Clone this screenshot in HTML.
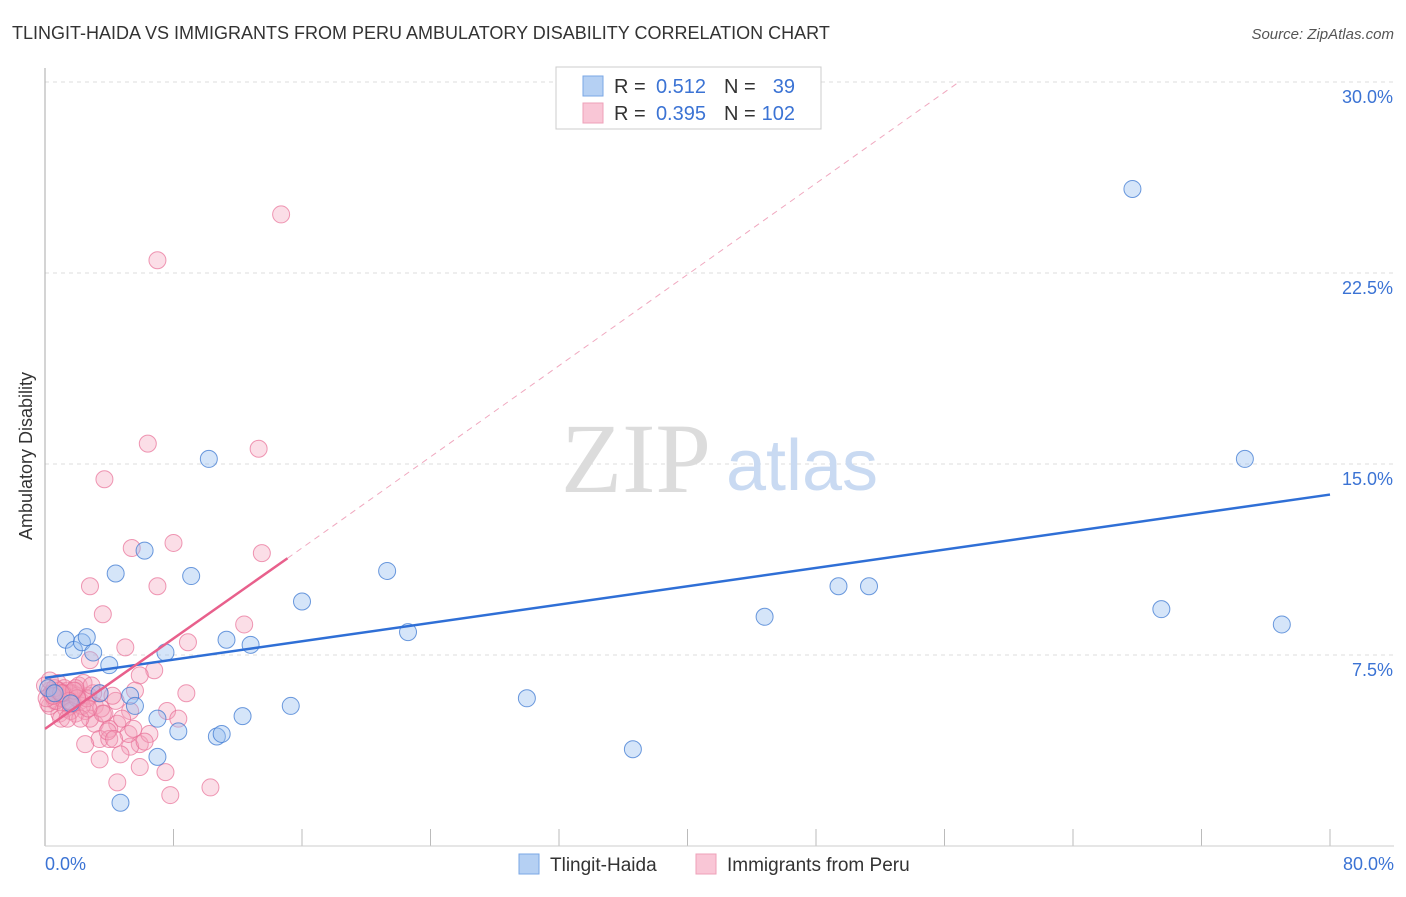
<!DOCTYPE html>
<html><head><meta charset="utf-8"><style>
body{margin:0;background:#fff;font-family:"Liberation Sans",sans-serif}
</style></head><body>
<svg width="1406" height="892" font-family="Liberation Sans, sans-serif">
<text x="12" y="39" font-size="18" fill="#333">TLINGIT-HAIDA VS IMMIGRANTS FROM PERU AMBULATORY DISABILITY CORRELATION CHART</text>
<text x="1394" y="39" font-size="15" fill="#555" font-style="italic" text-anchor="end">Source: ZipAtlas.com</text>
<g id="grid"></g>
<line x1="45" y1="68" x2="45" y2="846" stroke="#aaa"/>
<line x1="45" y1="846" x2="1394" y2="846" stroke="#ccc"/>
<text x="32" y="456" font-size="18" fill="#333" transform="rotate(-90 32 456)" text-anchor="middle">Ambulatory Disability</text>
<text x="636" y="492" font-size="100" fill="#dcdcdc" style="font-family:'Liberation Serif',serif" text-anchor="middle">ZIP</text>
<text x="802" y="490" font-size="72" fill="#c9daf2" text-anchor="middle">atlas</text>
<g id="pts"></g>
<g id="lines"></g>
<text x="45" y="870" font-size="18" fill="#3b73d4">0.0%</text>
<text x="1394" y="870" font-size="18" fill="#3b73d4" text-anchor="end">80.0%</text>
<rect x="556" y="67" width="265" height="62" fill="#fff" stroke="#ccc"/>
<rect x="583" y="76" width="20" height="20" fill="#b5d0f3" stroke="#7aa7e6"/>
<rect x="583" y="103" width="20" height="20" fill="#f9c6d6" stroke="#eea0b8"/>
<g font-size="20" fill="#333">
<text x="614" y="93">R =</text>
<text x="706" y="93" fill="#3b73d4" text-anchor="end">0.512</text>
<text x="724" y="93">N =</text>
<text x="795" y="93" fill="#3b73d4" text-anchor="end">39</text>
<text x="614" y="120">R =</text>
<text x="706" y="120" fill="#3b73d4" text-anchor="end">0.395</text>
<text x="724" y="120">N =</text>
<text x="795" y="120" fill="#3b73d4" text-anchor="end">102</text>
</g>
<rect x="519" y="854" width="20" height="20" fill="#b5d0f3" stroke="#7aa7e6"/>
<text x="550" y="871" font-size="19" fill="#333">Tlingit-Haida</text>
<rect x="696" y="854" width="20" height="20" fill="#f9c6d6" stroke="#eea0b8"/>
<text x="727" y="871" font-size="19" fill="#333">Immigrants from Peru</text>
</svg>
<script>
const yTicks=[7.5,15,22.5,30];
const xTickVals=[0,8,16,24,32,40,48,56,64,72,80];
const blueX=[1.3,1.8,2.3,2.6,3.0,4.0,4.4,6.2,5.3,5.6,7.0,7.0,7.5,8.3,9.1,10.2,10.7,11.0,11.3,12.3,12.8,15.3,16.0,21.3,22.6,30.0,36.6,44.8,49.4,51.3,67.7,69.5,74.7,77.0,4.7,3.4,0.2,0.6,1.6];
const blueY=[8.1,7.7,8.0,8.2,7.6,7.1,10.7,11.6,5.9,5.5,5.0,3.5,7.6,4.5,10.6,15.2,4.3,4.4,8.1,5.1,7.9,5.5,9.6,10.8,8.4,5.8,3.8,9.0,10.2,10.2,25.8,9.3,15.2,8.7,1.7,6.0,6.2,6.0,5.6];
const pinkX=[14.7,7.0,6.4,13.3,3.7,8.0,5.4,13.5,2.8,7.0,3.6,12.4,5.0,8.9,6.8,5.9,2.8,5.6,8.8,3.4,4.4,5.3,7.6,8.3,4.5,3.1,4.0,3.4,5.9,5.3,2.5,4.7,5.9,7.5,4.5,10.3,7.8,0.9,0.6,1.2,1.6,1.9,2.2,2.5,0.9,0.3,0.8,1.4,2.1,2.7,3.1,3.7,1.9,2.8,4.0,6.5,5.2,3.4,2.3,1.1,1.7,0.3,0.5,0.0,0.5,1.0,1.5,2.0,0.2,0.7,1.2,1.7,2.4,3.0,3.5,4.2,4.8,5.5,6.2,0.4,1.3,2.6,3.9,0.1,0.8,1.6,2.2,2.9,3.6,4.3,1.0,1.9,0.6,1.4,2.0,2.7,0.3,1.1,1.8,0.5,1.5,1.0];
const pinkY=[24.8,23.0,15.8,15.6,14.4,11.9,11.7,11.5,10.2,10.2,9.1,8.7,7.8,8.0,6.9,6.7,7.3,6.1,6.0,6.0,5.7,5.3,5.3,5.0,4.8,4.8,4.6,4.2,4.0,3.9,4.0,3.6,3.1,2.9,2.5,2.3,2.0,6.1,5.7,5.9,5.5,6.1,5.7,5.3,5.2,5.5,6.4,6.1,6.3,5.9,5.5,5.2,5.2,5.0,4.2,4.4,4.4,3.4,5.5,5.8,6.0,6.1,5.9,6.3,6.0,5.8,6.0,5.9,5.6,5.7,6.2,5.6,6.4,6.0,5.4,5.9,5.0,4.6,4.1,6.0,5.4,5.8,4.5,5.8,6.1,5.3,5.0,6.3,5.2,4.2,5.0,6.2,6.2,5.0,5.8,5.4,6.5,6.0,6.1,5.9,5.7,6.0];
const blueTrend=[0,6.6,80,13.8];
const pinkTrend=[0,4.6,15.1,11.3,56.9,30.0];
const X=v=>45+v/80*1285, Y=v=>846-v/30*764;
const NS='http://www.w3.org/2000/svg';
function mk(tag,attrs,parent){const e=document.createElementNS(NS,tag);for(const k in attrs)e.setAttribute(k,attrs[k]);document.getElementById(parent).appendChild(e);return e;}
yTicks.forEach(t=>{
 const l=mk('line',{x1:45,x2:1394,y1:Y(t),y2:Y(t),stroke:'#ddd','stroke-dasharray':'4,4'},'grid');
 
 
 const tx=mk('text',{x:1393,y:Y(t)+21,'font-size':18,fill:'#3b73d4','text-anchor':'end'},'grid');
 tx.textContent=t.toFixed(1)+'%';
 
 
});
xTickVals.forEach(t=>{
 const l=mk('line',{x1:X(t),x2:X(t),y1:829,y2:846,stroke:'#bbb'},'grid');
 
 
});
pinkX.forEach((v,i)=>{
 const c=mk('circle',{cx:X(v),cy:Y(pinkY[i]),r:8.5,fill:'rgba(244,160,186,0.35)',stroke:'rgba(232,110,150,0.7)','stroke-width':1},'pts');
 
 
});
blueX.forEach((v,i)=>{
 const c=mk('circle',{cx:X(v),cy:Y(blueY[i]),r:8.5,fill:'rgba(150,190,240,0.4)',stroke:'rgba(60,120,210,0.75)','stroke-width':1},'pts');
 
 
});
let l=mk('line',{x1:X(blueTrend[0]),y1:Y(blueTrend[1]),x2:X(blueTrend[2]),y2:Y(blueTrend[3]),stroke:'#2f6fd6','stroke-width':2.5},'lines');


l=mk('line',{x1:X(pinkTrend[0]),y1:Y(pinkTrend[1]),x2:X(pinkTrend[2]),y2:Y(pinkTrend[3]),stroke:'#e8608c','stroke-width':2.5},'lines');


l=mk('line',{x1:X(pinkTrend[2]),y1:Y(pinkTrend[3]),x2:X(pinkTrend[4]),y2:Y(pinkTrend[5]),stroke:'#f0a8bf','stroke-width':1,'stroke-dasharray':'6,5'},'lines');


</script>
</body></html>
